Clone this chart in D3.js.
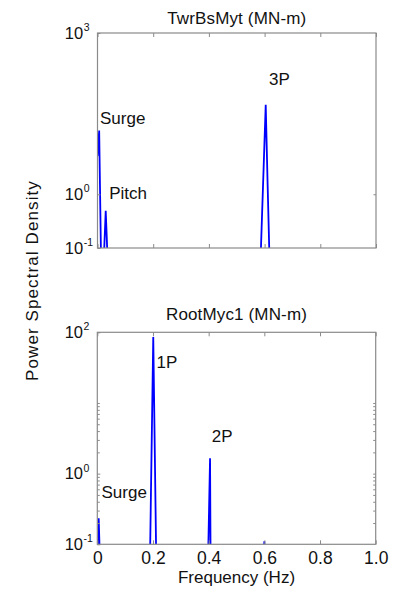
<!DOCTYPE html>
<html>
<head>
<meta charset="utf-8">
<script src="https://cdn.jsdelivr.net/npm/d3@7"></script>
<style>
  html, body { margin: 0; padding: 0; background: #fff; }
  text { font-family: Arial, "Liberation Sans", Helvetica, sans-serif; fill: #111; }
</style>
</head>
<body>
<script>
// ---- data ----
const xTickValues = [0, 0.2, 0.4, 0.6, 0.8, 1.0];
const xTickLabels = ["0", "0.2", "0.4", "0.6", "0.8", "1.0"];

const topTitle = "TwrBsMyt (MN-m)";
const topFreq = [0, 0.006, 0.013, 0.022, 0.0295, 0.037, 0.585, 0.604, 0.611, 0.618, 1.0];
const topPsd  = [5.1, 15.3, 0.05, 0.05, 0.49, 0.05, 0.05, 46, 1.43, 0.05, 0.05];
const topYTicks = [0.1, 1, 1000];
const topYRightTicks = [1];
const topLabels = ["Surge", "Pitch", "3P"];
const topLabelFreq = [0.009, 0.042, 0.616];
const topLabelPsd = [20.6, 0.81, 109];

const bottomTitle = "RootMyc1 (MN-m)";
const bottomFreq = [0, 0.005, 0.01, 0.1889, 0.201, 0.212, 0.3975, 0.405, 0.407, 0.597, 0.600, 0.603, 1.0];
const bottomPsd  = [0.05, 0.234, 0.05, 0.05, 86, 0.05, 0.05, 1.65, 0.05, 0.05, 0.11, 0.05, 0.05];
const bottomYTicks = [0.1, 1, 100];
const bottomMinorTicks = [0.2, 0.3, 0.4, 0.5, 0.6, 0.7, 0.8, 0.9, 2, 3, 4, 5, 6, 7, 8, 9, 10];
const bottomLabels = ["Surge", "1P", "2P"];
const bottomLabelFreq = [0.015, 0.213, 0.411];
const bottomLabelPsd = [0.45, 30.8, 2.83];

const xLabel = "Frequency (Hz)";
const yLabel = "Power Spectral Density";

// ---- layout ----
const W = 398, H = 592;
const svg = d3.select("body").append("svg")
  .attr("width", W).attr("height", H)
  .style("display", "block");
svg.append("rect").attr("width", W).attr("height", H).attr("fill", "#fff");

const BOX = "#8a8a8a";
const LINE = "#0000ff";
const FS = "17px";

const panels = [
  { title: topTitle, freq: topFreq, psd: topPsd, yDomain: [0.1, 1000], yTicks: topYTicks,
    rightTicks: topYRightTicks, minor: [], labels: topLabels, lf: topLabelFreq, lp: topLabelPsd,
    left: 97.5, right: 376, top: 33, bottom: 248, titleY: 24, showX: false },
  { title: bottomTitle, freq: bottomFreq, psd: bottomPsd, yDomain: [0.1, 100], yTicks: bottomYTicks,
    rightTicks: [1].concat(bottomMinorTicks), minor: bottomMinorTicks, labels: bottomLabels, lf: bottomLabelFreq, lp: bottomLabelPsd,
    left: 97.3, right: 375.7, top: 332.3, bottom: 544.3, titleY: 319.5, showX: true }
];

panels.forEach((p, i) => {
  const x = d3.scaleLinear().domain([0, 1]).range([p.left, p.right]);
  const y = d3.scaleLog().domain(p.yDomain).range([p.bottom, p.top]);
  const g = svg.append("g");

  const clipId = "clip" + i;
  svg.append("clipPath").attr("id", clipId).append("rect")
    .attr("x", p.left).attr("y", p.top).attr("width", p.right - p.left).attr("height", p.bottom - p.top);

  // data line
  const pts = p.freq.map((f, k) => [f, p.psd[k]]);
  g.append("path").datum(pts)
    .attr("clip-path", "url(#" + clipId + ")")
    .attr("fill", "none").attr("stroke", LINE).attr("stroke-width", 1.8)
    .attr("stroke-linejoin", "miter")
    .attr("d", d3.line().x(d => x(d[0])).y(d => y(d[1])));

  // x axes (bottom and top, inward ticks)
  g.append("g").attr("transform", `translate(0,${p.bottom})`)
    .call(d3.axisBottom(x).tickValues(xTickValues).tickSizeInner(-4).tickSizeOuter(0).tickPadding(7.2)
      .tickFormat((d, k) => p.showX ? xTickLabels[k] : ""));
  g.append("g").attr("transform", `translate(0,${p.top})`)
    .call(d3.axisTop(x).tickValues(xTickValues).tickSizeInner(-4).tickSizeOuter(0).tickFormat(""));

  // y axes: major + minor ticks inward
  g.append("g").attr("transform", `translate(${p.left},0)`)
    .call(d3.axisLeft(y).tickValues(p.yTicks).tickSizeInner(-3).tickSizeOuter(0).tickFormat(""));
  g.append("g").attr("transform", `translate(${p.right},0)`)
    .call(d3.axisRight(y).tickValues(p.rightTicks).tickSizeInner(-2.5).tickSizeOuter(0).tickFormat(""));
  if (p.minor.length) {
    g.append("g").attr("transform", `translate(${p.left},0)`)
      .call(d3.axisLeft(y).tickValues(p.minor).tickSizeInner(-2.5).tickSizeOuter(0).tickFormat(""));
  }
  g.selectAll(".domain").remove();
  g.selectAll(".tick line").attr("stroke", BOX).attr("stroke-width", 1);
  g.selectAll(".tick text").style("font-size", "17.5px").attr("fill", "#111")
    .style("font-family", "Arial, 'Liberation Sans', sans-serif");

  // box
  g.append("rect").attr("x", p.left).attr("y", p.top)
    .attr("width", p.right - p.left).attr("height", p.bottom - p.top)
    .attr("fill", "none").attr("stroke", BOX).attr("stroke-width", 1.2);

  // y tick labels 10^n
  p.yTicks.forEach(v => {
    const e = Math.round(Math.log10(v));
    g.append("text").attr("x", p.left - 14.3).attr("y", y(v) + 5.6)
      .attr("text-anchor", "end").style("font-size", "16.5px").text("10");
    g.append("text").attr("x", p.left - 13.8).attr("y", y(v) - 2)
      .attr("text-anchor", "start").style("font-size", "10.5px").text(String(e));
  });

  // title
  g.append("text").attr("x", (p.left + p.right) / 2).attr("y", p.titleY)
    .attr("text-anchor", "middle").style("font-size", FS).style("letter-spacing", "0.15px").text(p.title);

  // annotations
  p.labels.forEach((t, k) => {
    g.append("text").attr("x", x(p.lf[k])).attr("y", y(p.lp[k]))
      .style("font-size", FS).text(t);
  });

  if (p.showX) {
    g.append("text").attr("x", (p.left + p.right) / 2).attr("y", 582.7)
      .attr("text-anchor", "middle").style("font-size", FS).text(xLabel);
  }
});

// shared y label
svg.append("text")
  .attr("transform", "translate(37.5,280.5) rotate(-90)")
  .attr("text-anchor", "middle").style("font-size", FS).style("letter-spacing", "1.1px").text(yLabel);
</script>
</body>
</html>
